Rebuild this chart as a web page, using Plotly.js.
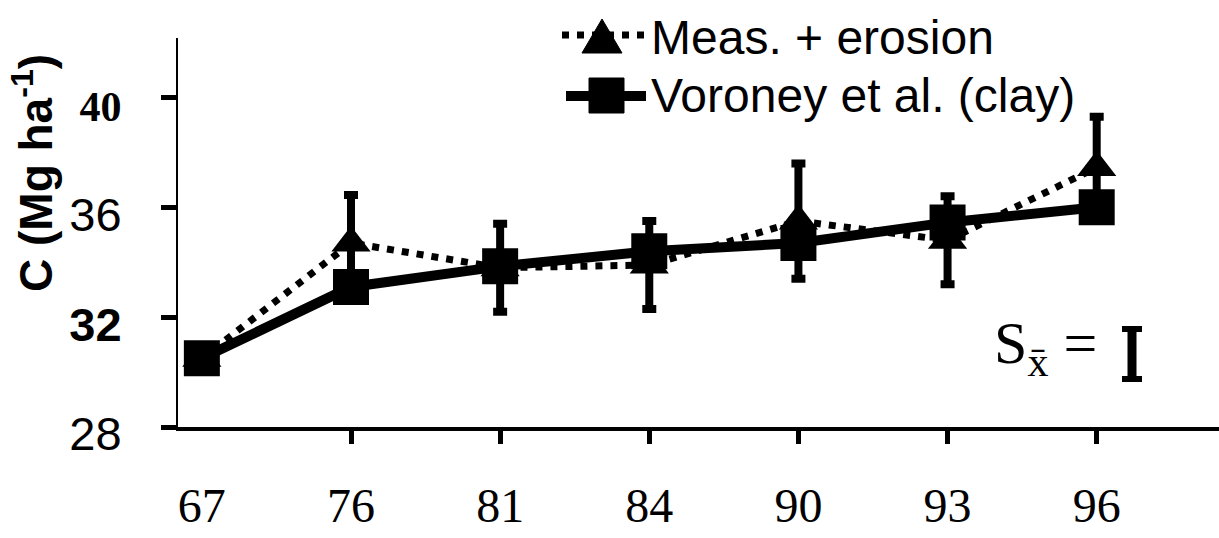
<!DOCTYPE html>
<html>
<head>
<meta charset="utf-8">
<script src="https://cdn.plot.ly/plotly-3.0.1.min.js"></script>
<style>
  html, body { margin: 0; padding: 0; background: #fff; }
  #chart { width: 1219px; height: 538px; }
</style>
</head>
<body>
<div id="chart"></div>
<script>
// Soil carbon stock by sampling year
const years = ['67', '76', '81', '84', '90', '93', '96'];
const measErosion = [30.5, 34.7, 33.8, 33.9, 35.5, 34.8, 37.45];
const measErosionSe = [0, 1.75, 1.6, 1.6, 2.1, 1.6, 1.85];
const voroneyClay = [30.5, 33.1, 33.85, 34.4, 34.7, 35.45, 36.0];
const seriesNames = ['Meas. + erosion', 'Voroney et al. (clay)'];
const yTickVals = [28, 32, 36, 40];
const yTickText = ['28', '<b>32</b>', '36',
  '<span style="font-family:Liberation Serif;font-size:42px"><b>40</b></span>'];
const yTitle = 'C (Mg ha<sup>-1</sup>)';
const seLabel = 'S<sub>x\u0304</sub> =';

// page frame
const W = 1219, H = 538;
const M = { l: 178, r: 0, t: 38, b: 111 };
const PW = W - M.l - M.r, PH = H - M.t - M.b;
const px = x => (x - M.l) / PW;          // page px -> paper x
const py = y => (H - M.b - y) / PH;      // page px -> paper y
const pxPerUnit = 27.46;
const yMin = 28, yMax = yMin + PH / pxPerUnit;
const xRange = [-0.16, 6.82];

const black = '#000';

const traces = [
  {
    name: seriesNames[0],
    x: years, y: measErosion,
    type: 'scatter', mode: 'lines+markers',
    line: { color: black, width: 7, dash: '7px,8px' },
    marker: { symbol: 'triangle-up', size: 34, color: black, line: { width: 0 } },
    error_y: { type: 'data', array: measErosionSe, visible: true, color: black, thickness: 8, width: 7 },
    showlegend: false, hoverinfo: 'x+y'
  },
  {
    name: seriesNames[1],
    x: years, y: voroneyClay,
    type: 'scatter', mode: 'lines+markers',
    line: { color: black, width: 10 },
    marker: { symbol: 'square', size: 36, color: black, line: { width: 0 } },
    showlegend: false, hoverinfo: 'x+y'
  },
  // carries the year tick marks on the overlaid axis; draws nothing itself
  {
    x: years.map((_, i) => i), y: voroneyClay,
    xaxis: 'x2', yaxis: 'y', type: 'scatter', mode: 'none',
    showlegend: false, hoverinfo: 'skip'
  }
];

// key: sample symbols beside the series names
const shapes = [
  { type: 'line', xref: 'paper', yref: 'paper', x0: px(562), x1: px(646), y0: py(35), y1: py(35),
    line: { color: black, width: 7, dash: '7px,8px' } },
  { type: 'path', xref: 'paper', yref: 'paper',
    path: `M${px(582)},${py(53)} L${px(622)},${py(53)} L${px(602)},${py(19)} Z`,
    fillcolor: black, line: { color: black, width: 1 } },
  { type: 'line', xref: 'paper', yref: 'paper', x0: px(566), x1: px(646), y0: py(96), y1: py(96),
    line: { color: black, width: 10 } },
  { type: 'rect', xref: 'paper', yref: 'paper', x0: px(589), x1: px(624), y0: py(78), y1: py(113),
    fillcolor: black, line: { color: black, width: 1 } },
  // standard-error bar key
  { type: 'line', xref: 'paper', yref: 'paper', x0: px(1132), x1: px(1132), y0: py(328), y1: py(381),
    line: { color: black, width: 9 } },
  { type: 'line', xref: 'paper', yref: 'paper', x0: px(1122), x1: px(1142), y0: py(329), y1: py(329),
    line: { color: black, width: 6 } },
  { type: 'line', xref: 'paper', yref: 'paper', x0: px(1122), x1: px(1142), y0: py(379), y1: py(379),
    line: { color: black, width: 6 } }
];

const annotations = [
  { text: yTitle, xref: 'paper', yref: 'paper', x: px(33), y: py(173),
    xanchor: 'center', yanchor: 'middle', textangle: -90, showarrow: false,
    font: { family: 'Liberation Sans', size: 46, weight: 'bold', color: black } },
  { text: seriesNames[0], xref: 'paper', yref: 'paper', x: px(649), y: py(37),
    xanchor: 'left', yanchor: 'middle', showarrow: false,
    font: { family: 'Liberation Sans', size: 48, color: black } },
  { text: seriesNames[1], xref: 'paper', yref: 'paper', x: px(649), y: py(95),
    xanchor: 'left', yanchor: 'middle', showarrow: false,
    font: { family: 'Liberation Sans', size: 48, color: black } },
  { text: seLabel, xref: 'paper', yref: 'paper', x: px(992), y: py(347),
    xanchor: 'left', yanchor: 'middle', showarrow: false,
    font: { family: 'Liberation Serif', size: 60, color: black } }
];

const layout = {
  width: W, height: H,
  margin: M,
  paper_bgcolor: '#fff', plot_bgcolor: '#fff',
  showlegend: false,
  xaxis: {
    type: 'category', categoryorder: 'array', categoryarray: years,
    range: xRange, showgrid: false, zeroline: false,
    showline: true, linecolor: black, linewidth: 4,
    ticks: '', tickvals: years, ticktext: years,
    tickfont: { family: 'Liberation Serif', size: 48, color: black },
    ticklabelstandoff: 33, fixedrange: true
  },
  xaxis2: {
    overlaying: 'x', anchor: 'y', side: 'bottom',
    range: xRange, showgrid: false, zeroline: false, showline: false,
    tickvals: years.slice(1).map((_, i) => i + 1),
    ticks: 'outside', ticklen: 16, tickwidth: 5, tickcolor: black,
    showticklabels: false, fixedrange: true
  },
  yaxis: {
    range: [yMin, yMax], showgrid: false, zeroline: false,
    showline: true, linecolor: black, linewidth: 2,
    tickvals: yTickVals, ticktext: yTickText,
    ticks: 'outside', ticklen: 15, tickwidth: 5, tickcolor: black,
    tickfont: { family: 'Liberation Sans', size: 47, color: black },
    ticklabelstandoff: 30, ticklabelshift: 7, fixedrange: true
  },
  shapes: shapes,
  annotations: annotations
};

Plotly.newPlot('chart', traces, layout, { staticPlot: true, displayModeBar: false });
</script>
</body>
</html>
